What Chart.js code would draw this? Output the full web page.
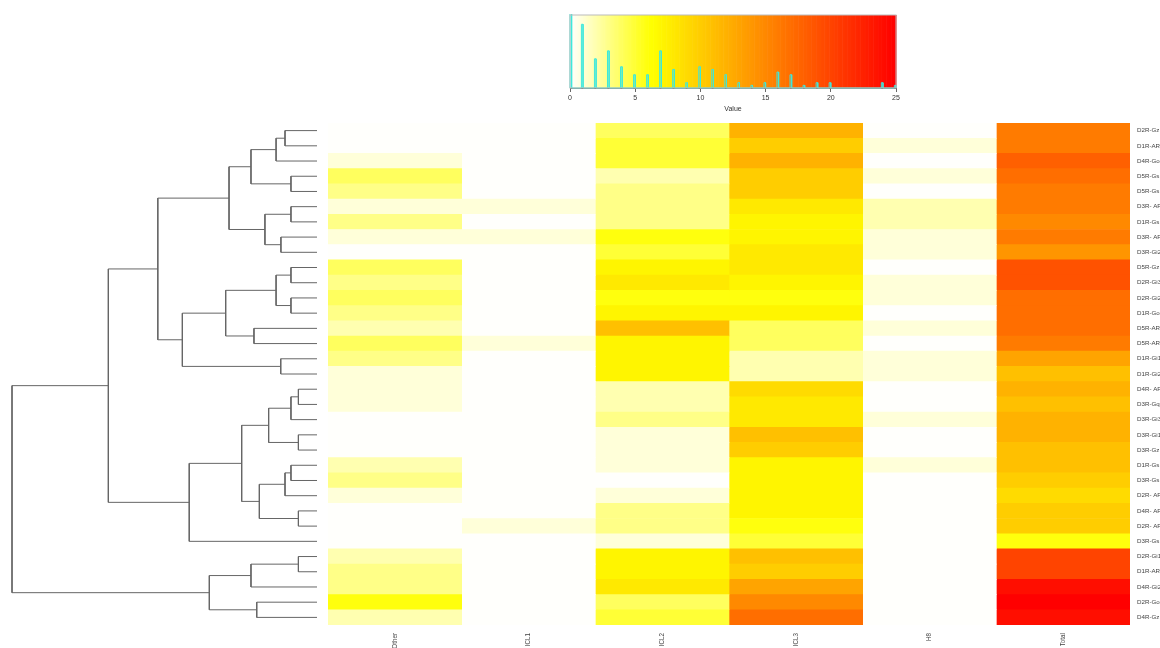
<!DOCTYPE html>
<html>
<head>
<meta charset="utf-8">
<script src="https://cdn.jsdelivr.net/npm/chart.js@4.4.1/dist/chart.umd.min.js"></script>
<style>
  html, body { margin: 0; background: #fff; }
  #wrap { position: relative; width: 1160px; height: 648px; overflow: hidden; }
  canvas { position: absolute; }
</style>
</head>
<body>
<div id="wrap">
  <canvas id="dendro" width="330" height="648" style="left:0;top:0"></canvas>
  <canvas id="heat" width="840" height="648" style="left:320px;top:0"></canvas>
  <canvas id="key" width="390" height="115" style="left:540px;top:0"></canvas>
</div>
<script>
/* heatmap with row dendrogram + colour key, Chart.js only */

const rowLabels = [
  "D2R-Gz", "D1R-AR", "D4R-Go", "D5R-Gs", "D5R-Gs", "D3R- AF", "D1R-Gs", "D3R- AF",
  "D3R-Gi2", "D5R-Gz", "D2R-Gi3", "D2R-Gi2", "D1R-Go", "D5R-AR", "D5R-AR", "D1R-Gi1",
  "D1R-Gi2", "D4R- AF", "D3R-Gq", "D3R-Gi3", "D3R-Gi1", "D3R-Gz", "D1R-Gs", "D3R-Gs",
  "D2R- AF", "D4R- AF", "D2R- AF", "D3R-Gs", "D2R-Gi1", "D1R-AR", "D4R-Gi2", "D2R-Go", "D4R-Gz",
];
const colNames = ["Other", "ICL1", "ICL2", "ICL3", "H8", "Total"];

// one value per row, top to bottom
const otherVals = [0,0,1,4,3,1,3,1,0,4,3,4,3,2,4,3,1,1,1,0,0,0,2,3,1,0,0,0,2,3,3,6,2];
const icl1Vals  = [0,0,0,0,0,1,0,1,0,0,0,0,0,0,1,0,0,0,0,0,0,0,0,0,0,0,1,0,0,0,0,0,0];
const icl2Vals  = [4,5,5,2,3,3,3,6,5,7,8,6,7,11,7,7,7,2,2,3,1,1,1,0,1,3,3,1,7,7,8,4,5];
const icl3Vals  = [12,10,12,10,10,8,7,7,8,8,7,6,7,4,4,2,2,9,8,8,11,10,7,7,7,7,6,5,11,10,13,15,17];
const h8Vals    = [0,1,0,1,0,2,2,1,1,0,1,1,0,1,0,1,1,0,0,1,0,0,1,0,0,0,0,0,0,0,0,0,0];
const totalVals = [16,16,18,17,16,16,15,16,14,19,19,17,17,17,16,13,11,12,11,12,12,11,11,10,9,10,10,6,20,20,24,25,24];
const cellValues = [otherVals, icl1Vals, icl2Vals, icl3Vals, h8Vals, totalVals];

// row clustering, hclust style: negative = leaf (row index + 1), positive = earlier merge
const merges = [
  [-1, -2, 1.72], [1, -3, 2.20], [-4, -5, 1.40], [2, 3, 3.55],
  [-6, -7, 1.40], [-8, -9, 1.94], [5, 6, 2.80], [4, 7, 4.73],
  [-10, -11, 1.40], [-12, -13, 1.40], [9, 10, 2.20], [-14, -15, 3.39],
  [11, 12, 4.91], [-16, -17, 1.95], [13, 14, 7.24], [8, 15, 8.56],
  [-18, -19, 1.00], [17, -20, 1.40], [-21, -22, 1.00], [18, 19, 2.60],
  [-23, -24, 1.40], [21, -25, 1.72], [-26, -27, 1.00], [22, 23, 3.10],
  [20, 24, 4.05], [25, -28, 6.87], [16, 26, 11.22], [-29, -30, 1.00],
  [28, -31, 3.55], [-32, -33, 3.24], [29, 30, 5.79], [27, 31, 16.40],
];

// colour key histogram: cell counts per value 0..25
const keyValues = [0,1,2,3,4,5,6,7,8,9,10,11,12,13,14,15,16,17,18,19,20,21,22,23,24,25];
const keyCounts = [59,24,11,14,8,5,5,14,7,2,8,7,5,2,1,2,6,5,1,2,2,0,0,0,2,1];
const keyTicks = [0, 5, 10, 15, 20, 25];

const $ = (id) => document.getElementById(id);
const VMAX = 25, NCOL = 200;

/* ---------- palette: rev(heat.colors(n)) ---------- */
function heatPalette(n) {
  const j = Math.floor(n / 4), i = n - j, out = [];
  for (let k = 0; k < i; k++) out.push(`rgb(255,${Math.round(255 * k / (i - 1))},0)`);
  const s0 = 1 - 1 / (2 * j), s1 = 1 / (2 * j);
  for (let k = 0; k < j; k++) {
    const s = s0 + (s1 - s0) * k / (j - 1);
    out.push(`rgb(255,255,${Math.round(255 * (1 - s))})`);
  }
  return out.reverse();
}
const pal = heatPalette(NCOL);
const heatColor = (v) => pal[Math.max(0, Math.min(NCOL - 1, Math.ceil(v / VMAX * NCOL) - 1))];

Chart.defaults.font.family = "'Liberation Sans', Arial, sans-serif";
Chart.defaults.font.size = 7;
Chart.defaults.color = "#333";
const noPlugins = { legend: { display: false }, tooltip: { enabled: false } };

/* ---------- dendrogram ---------- */
function dendroSegments() {
  const pos = [], hgt = [];
  const ref = (id) => id < 0 ? { y: -id - 1, h: 0 } : { y: pos[id - 1], h: hgt[id - 1] };
  return merges.map(([a, b, h], k) => {
    const l = ref(a), r = ref(b);
    pos[k] = (l.y + r.y) / 2; hgt[k] = h;
    return [{ x: l.h, y: l.y }, { x: h, y: l.y }, { x: h, y: r.y }, { x: r.h, y: r.y }];
  });
}

new Chart($("dendro"), {
  type: "scatter",
  data: {
    datasets: dendroSegments().map((d) => ({
      data: d, showLine: true, borderColor: "#666", borderWidth: 1,
      pointRadius: 0, tension: 0, clip: 4,
    })),
  },
  options: {
    responsive: false, animation: false,
    layout: { padding: { left: 12, right: 13, top: 123, bottom: 23 } },
    scales: {
      x: { type: "linear", display: false, reverse: true, min: 0, max: merges[merges.length - 1][2] },
      y: { type: "linear", display: false, reverse: true, min: -0.5, max: rowLabels.length - 0.5 },
    },
    plugins: noPlugins,
  },
});

/* ---------- heatmap ---------- */
new Chart($("heat"), {
  type: "bar",
  data: {
    labels: rowLabels,
    datasets: colNames.map((name, c) => ({
      label: name,
      data: rowLabels.map(() => [c, c + 1]),
      backgroundColor: cellValues[c].map(heatColor),
      grouped: false, barPercentage: 1, categoryPercentage: 1, borderWidth: 0,
    })),
  },
  options: {
    indexAxis: "y", responsive: false, animation: false,
    layout: { padding: { left: 8, top: 123, right: 0, bottom: 0 } },
    scales: {
      x: {
        type: "linear", min: 0, max: colNames.length,
        grid: { display: false, drawTicks: false }, border: { display: false },
        afterBuildTicks: (s) => { s.ticks = colNames.map((_, i) => ({ value: i + 0.5 })); },
        ticks: {
          autoSkip: false, minRotation: 90, maxRotation: 90, padding: 8, color: "#444",
          font: { size: 6.3 },
          callback: (v, i) => colNames[i],
        },
        afterFit: (s) => { s.height = 23; },
      },
      y: {
        position: "right",
        grid: { display: false, drawTicks: false }, border: { display: false },
        ticks: { autoSkip: false, padding: 7, color: "#444", font: { size: 6.2 } },
        afterFit: (s) => { s.width = 30; },
      },
    },
    plugins: noPlugins,
  },
});

/* ---------- colour key ---------- */
const binW = VMAX / NCOL;
const histPts = [{ x: 0, y: 0 }];
keyValues.forEach((v, i) => {
  const c = keyCounts[i];
  if (!c) return;
  const x0 = v === 0 ? 0 : v - binW, x1 = v === 0 ? binW : v;
  histPts.push({ x: x0, y: 0 }, { x: x0, y: c }, { x: x1, y: c }, { x: x1, y: 0 });
});
histPts.push({ x: VMAX, y: 0 });

const keyPlugin = {
  id: "keyGradient",
  beforeDatasetsDraw(chart) {
    const { ctx, chartArea: a, scales: { x } } = chart;
    ctx.save();
    for (let k = 0; k < NCOL; k++) {
      const p0 = x.getPixelForValue(k * binW), p1 = x.getPixelForValue((k + 1) * binW);
      ctx.fillStyle = pal[k];
      ctx.fillRect(p0, a.top, p1 - p0 + 0.6, a.bottom - a.top);
    }
    ctx.restore();
  },
  afterDatasetsDraw(chart) {
    const { ctx, chartArea: a } = chart;
    ctx.save();
    ctx.strokeStyle = "#bbb";
    ctx.lineWidth = 1;
    ctx.strokeRect(a.left, a.top, a.right - a.left, a.bottom - a.top);
    ctx.restore();
  },
};

new Chart($("key"), {
  type: "line",
  data: {
    datasets: [{
      data: histPts, borderColor: "#3ee8dc", borderWidth: 1,
      pointRadius: 0, tension: 0, clip: 1,
    }],
  },
  options: {
    responsive: false, animation: false,
    layout: { padding: { left: 30, right: 34, top: 15, bottom: 0 } },
    scales: {
      x: {
        type: "linear", min: 0, max: VMAX,
        afterBuildTicks: (s) => { s.ticks = keyTicks.map((v) => ({ value: v })); },
        ticks: { padding: 2, color: "#333", maxRotation: 0 },
        grid: { drawOnChartArea: false, drawTicks: true, tickLength: 4, color: "#666" },
        border: { display: true, color: "#666" },
        title: { display: true, text: "Value", color: "#333", padding: { top: 0, bottom: 2 } },
        afterFit: (s) => { s.height = 27; },
      },
      y: { type: "linear", display: false, min: 0, max: 27.5 },
    },
    plugins: noPlugins,
  },
  plugins: [keyPlugin],
});
</script>
</body>
</html>
